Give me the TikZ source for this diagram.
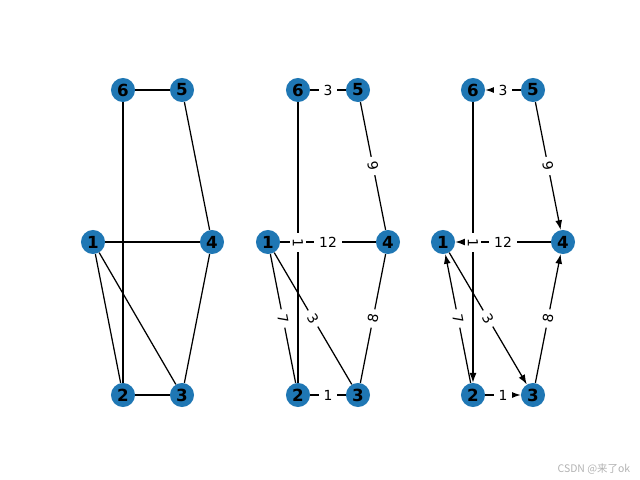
\documentclass[tikz,border=0pt]{standalone}
\usepackage{fontspec}
\setmainfont{DejaVu Sans}
\newfontfamily\cjkfont{Noto Sans CJK SC}
\usepackage{tikz}
\usetikzlibrary{arrows.meta}
\definecolor{nxblue}{HTML}{1F77B4}

\begin{document}
\begin{tikzpicture}[
    x=0.72pt, y=-0.72pt,
    vtx/.style={circle, fill=nxblue, minimum size=17.3pt, inner sep=0pt, font=\bfseries\fontsize{12}{12}\selectfont},
    edge/.style={line width=0.9pt},
    arc/.style={-{Latex[length=7pt,width=5pt]}, line width=0.9pt},
    wt/.style={fill=white, inner xsep=3.5pt, inner ysep=2pt, sloped, midway, font=\fontsize{10}{10}\selectfont}
]
\useasboundingbox (0,0) rectangle (640,480);

% Left: plain graph
\node[vtx] (u6) at (123,90) {6};
\node[vtx] (u5) at (182,90) {5};
\node[vtx] (u1) at (93,242) {1};
\node[vtx] (u4) at (212,242) {4};
\node[vtx] (u2) at (123,395) {2};
\node[vtx] (u3) at (182,395) {3};

\draw[edge] (u1) -- (u4);
\draw[edge] (u6) -- (u2);
\draw[edge] (u6) -- (u5);
\draw[edge] (u5) -- (u4);
\draw[edge] (u1) -- (u2);
\draw[edge] (u1) -- (u3);
\draw[edge] (u4) -- (u3);
\draw[edge] (u2) -- (u3);

% Middle: weighted graph
\node[vtx] (w6) at (298,90) {6};
\node[vtx] (w5) at (358,90) {5};
\node[vtx] (w1) at (268,242) {1};
\node[vtx] (w4) at (388,242) {4};
\node[vtx] (w2) at (298,395) {2};
\node[vtx] (w3) at (358,395) {3};

\draw[edge] (w1) -- node[wt] {12} (w4);
\draw[edge] (w6) -- node[wt] {1} (w2);
\draw[edge] (w6) -- node[wt] {3} (w5);
\draw[edge] (w5) -- node[wt] {9} (w4);
\draw[edge] (w1) -- node[wt] {7} (w2);
\draw[edge] (w1) -- node[wt] {3} (w3);
\draw[edge] (w3) -- node[wt] {8} (w4);
\draw[edge] (w2) -- node[wt] {1} (w3);

% Right: weighted digraph
\node[vtx] (d6) at (473,90) {6};
\node[vtx] (d5) at (533,90) {5};
\node[vtx] (d1) at (443,242) {1};
\node[vtx] (d4) at (563,242) {4};
\node[vtx] (d2) at (473,395) {2};
\node[vtx] (d3) at (533,395) {3};

\draw[arc] (d4) -- node[wt] {12} (d1);
\draw[arc] (d6) -- node[wt] {1} (d2);
\draw[arc] (d5) -- node[wt] {3} (d6);
\draw[arc] (d5) -- node[wt] {9} (d4);
\draw[arc] (d2) -- node[wt] {7} (d1);
\draw[arc] (d1) -- node[wt] {3} (d3);
\draw[arc] (d3) -- node[wt] {8} (d4);
\draw[arc] (d2) -- node[wt] {1} (d3);

\node[text=black!30, font=\cjkfont\fontsize{7.5}{8}\selectfont, anchor=east] (mark) at (635,469) {CSDN @来了ok};
\end{tikzpicture}
\end{document}
